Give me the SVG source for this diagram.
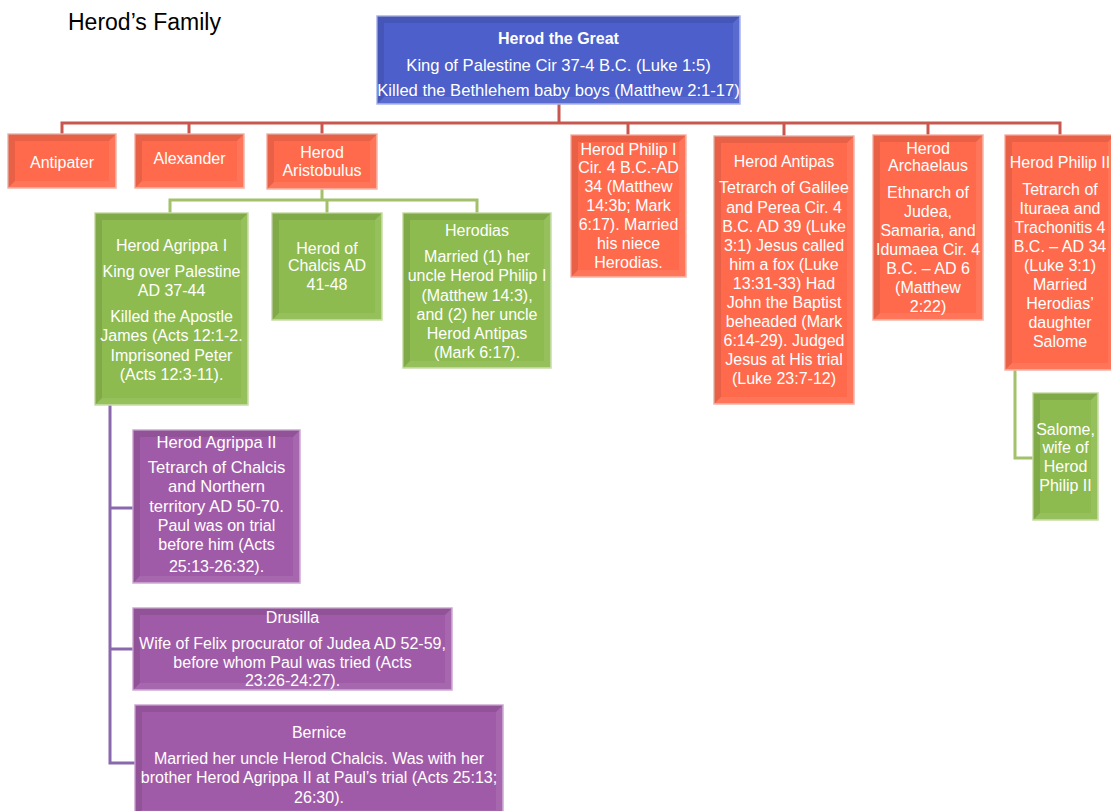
<svg xmlns="http://www.w3.org/2000/svg" width="1111" height="811" viewBox="0 0 1111 811">
<style>
text{font-family:"Liberation Sans",Arial,sans-serif;fill:#fff;font-size:16px;text-anchor:middle}
.title{fill:#000;font-size:23px;text-anchor:start}
.bold{font-weight:bold}
.big{font-size:16.6px}
.blue{fill:#4C5FCB;stroke:#A9B4E8;stroke-width:1.5}
.red{fill:#FF6A4C;stroke:#F6B4A6;stroke-width:1.5}
.green{fill:#8DBB4F;stroke:#C9DCA8;stroke-width:1.5}
.purple{fill:#A05BA8;stroke:#CDA9D2;stroke-width:1.5}
.dk{fill:#000;opacity:0.09}
.lt{fill:#fff;opacity:0.08}
.c{fill:none;stroke-width:3}
.cr{stroke:#C8584F}
.cg{stroke:#A3C16A}
.cp{stroke:#8A68AE}
</style>
<text class="title" x="68" y="30">Herod’s Family</text>
<g id="connectors">
<path class="c cr" d="M559 104 V123 M62 134 V123 H1060 V135 M189 123 V134 M322 123 V134 M628 123 V135 M784 123 V136 M928 123 V135"/>
<path class="c cg" d="M322 189 V200 M170 213 V200 H477 V213 M327 200 V213"/>
<path class="c cg" d="M1015 370 V458 H1033"/>
<path class="c cp" d="M110 405 V763 H135 M110 508 H133 M110 649 H133"/>
</g>
<g id="herod-the-great">
<rect class="blue" x="377" y="16" width="363" height="88"/>
<path class="dk" d="M377 16 H740 L733 23 H384 V97 L377 104 Z"/>
<path class="lt" d="M740 16 V104 H377 L384 97 H733 V23 Z"/>
<text x="558.5" y="44" class="bold">Herod the Great</text>
<text x="558.5" y="71" class="big">King of Palestine Cir 37-4 B.C. (Luke 1:5)</text>
<text x="558.5" y="96" class="big">Killed the Bethlehem baby boys (Matthew 2:1-17)</text>
</g>
<g id="antipater">
<rect class="red" x="8" y="134" width="108" height="54"/>
<path class="dk" d="M8 134 H116 L109 141 H15 V181 L8 188 Z"/>
<path class="lt" d="M116 134 V188 H8 L15 181 H109 V141 Z"/>
<text x="62" y="168">Antipater</text>
</g>
<g id="alexander">
<rect class="red" x="135" y="134" width="109" height="54"/>
<path class="dk" d="M135 134 H244 L237 141 H142 V181 L135 188 Z"/>
<path class="lt" d="M244 134 V188 H135 L142 181 H237 V141 Z"/>
<text x="189.5" y="164">Alexander</text>
</g>
<g id="herod-aristobulus">
<rect class="red" x="267" y="134" width="110" height="55"/>
<path class="dk" d="M267 134 H377 L370 141 H274 V182 L267 189 Z"/>
<path class="lt" d="M377 134 V189 H267 L274 182 H370 V141 Z"/>
<text x="322" y="158">Herod</text>
<text x="322" y="176">Aristobulus</text>
</g>
<g id="herod-philip-i">
<rect class="red" x="571" y="135" width="115" height="142"/>
<path class="dk" d="M571 135 H686 L679 142 H578 V270 L571 277 Z"/>
<path class="lt" d="M686 135 V277 H571 L578 270 H679 V142 Z"/>
<text x="628.5" y="155">Herod Philip I</text>
<text x="628.5" y="173">Cir. 4 B.C.-AD</text>
<text x="628.5" y="192">34 (Matthew</text>
<text x="628.5" y="211">14:3b; Mark</text>
<text x="628.5" y="230">6:17). Married</text>
<text x="628.5" y="249">his niece</text>
<text x="628.5" y="268">Herodias.</text>
</g>
<g id="herod-antipas">
<rect class="red" x="714" y="136" width="140" height="268"/>
<path class="dk" d="M714 136 H854 L847 143 H721 V397 L714 404 Z"/>
<path class="lt" d="M854 136 V404 H714 L721 397 H847 V143 Z"/>
<text x="784" y="167">Herod Antipas</text>
<text x="784" y="193">Tetrarch of Galilee</text>
<text x="784" y="213">and Perea Cir. 4</text>
<text x="784" y="232">B.C. AD 39 (Luke</text>
<text x="784" y="251">3:1) Jesus called</text>
<text x="784" y="270">him a fox (Luke</text>
<text x="784" y="289">13:31-33) Had</text>
<text x="784" y="308">John the Baptist</text>
<text x="784" y="327">beheaded (Mark</text>
<text x="784" y="346">6:14-29). Judged</text>
<text x="784" y="365">Jesus at His trial</text>
<text x="784" y="384">(Luke 23:7-12)</text>
</g>
<g id="herod-archaelaus">
<rect class="red" x="873" y="135" width="110" height="185"/>
<path class="dk" d="M873 135 H983 L976 142 H880 V313 L873 320 Z"/>
<path class="lt" d="M983 135 V320 H873 L880 313 H976 V142 Z"/>
<text x="928" y="154">Herod</text>
<text x="928" y="171">Archaelaus</text>
<text x="928" y="198">Ethnarch of</text>
<text x="928" y="217">Judea,</text>
<text x="928" y="236">Samaria, and</text>
<text x="928" y="255">Idumaea Cir. 4</text>
<text x="928" y="274">B.C. – AD 6</text>
<text x="928" y="293">(Matthew</text>
<text x="928" y="312">2:22)</text>
</g>
<g id="herod-philip-ii">
<rect class="red" x="1005" y="135" width="110" height="235"/>
<path class="dk" d="M1005 135 H1115 L1108 142 H1012 V363 L1005 370 Z"/>
<path class="lt" d="M1115 135 V370 H1005 L1012 363 H1108 V142 Z"/>
<text x="1060" y="168">Herod Philip II</text>
<text x="1060" y="195">Tetrarch of</text>
<text x="1060" y="214">Ituraea and</text>
<text x="1060" y="233">Trachonitis 4</text>
<text x="1060" y="252">B.C. – AD 34</text>
<text x="1060" y="271">(Luke 3:1)</text>
<text x="1060" y="290">Married</text>
<text x="1060" y="309">Herodias’</text>
<text x="1060" y="328">daughter</text>
<text x="1060" y="347">Salome</text>
</g>
<g id="salome">
<rect class="green" x="1033" y="393" width="65" height="127"/>
<path class="dk" d="M1033 393 H1098 L1091 400 H1040 V513 L1033 520 Z"/>
<path class="lt" d="M1098 393 V520 H1033 L1040 513 H1091 V400 Z"/>
<text x="1065.5" y="435">Salome,</text>
<text x="1065.5" y="453">wife of</text>
<text x="1065.5" y="472">Herod</text>
<text x="1065.5" y="491">Philip II</text>
</g>
<g id="herod-agrippa-i">
<rect class="green" x="95" y="213" width="153" height="192"/>
<path class="dk" d="M95 213 H248 L241 220 H102 V398 L95 405 Z"/>
<path class="lt" d="M248 213 V405 H95 L102 398 H241 V220 Z"/>
<text x="171.5" y="251">Herod Agrippa I</text>
<text x="171.5" y="277">King over Palestine</text>
<text x="171.5" y="296">AD 37-44</text>
<text x="171.5" y="322">Killed the Apostle</text>
<text x="171.5" y="341">James (Acts 12:1-2.</text>
<text x="171.5" y="361">Imprisoned Peter</text>
<text x="171.5" y="380">(Acts 12:3-11).</text>
</g>
<g id="herod-of-chalcis">
<rect class="green" x="272" y="213" width="110" height="107"/>
<path class="dk" d="M272 213 H382 L375 220 H279 V313 L272 320 Z"/>
<path class="lt" d="M382 213 V320 H272 L279 313 H375 V220 Z"/>
<text x="327" y="254">Herod of</text>
<text x="327" y="271">Chalcis AD</text>
<text x="327" y="290">41-48</text>
</g>
<g id="herodias">
<rect class="green" x="403" y="213" width="148" height="155"/>
<path class="dk" d="M403 213 H551 L544 220 H410 V361 L403 368 Z"/>
<path class="lt" d="M551 213 V368 H403 L410 361 H544 V220 Z"/>
<text x="477" y="236">Herodias</text>
<text x="477" y="262">Married (1) her</text>
<text x="477" y="281">uncle Herod Philip I</text>
<text x="477" y="301">(Matthew 14:3),</text>
<text x="477" y="320">and (2) her uncle</text>
<text x="477" y="339">Herod Antipas</text>
<text x="477" y="358">(Mark 6:17).</text>
</g>
<g id="herod-agrippa-ii">
<rect class="purple" x="133" y="430" width="167" height="153"/>
<path class="dk" d="M133 430 H300 L293 437 H140 V576 L133 583 Z"/>
<path class="lt" d="M300 430 V583 H133 L140 576 H293 V437 Z"/>
<text x="216.5" y="448" class="big">Herod Agrippa II</text>
<text x="216.5" y="473" class="big">Tetrarch of Chalcis</text>
<text x="216.5" y="492" class="big">and Northern</text>
<text x="216.5" y="512" class="big">territory AD 50-70.</text>
<text x="216.5" y="531">Paul was on trial</text>
<text x="216.5" y="550">before him (Acts</text>
<text x="216.5" y="572">25:13-26:32).</text>
</g>
<g id="drusilla">
<rect class="purple" x="133" y="608" width="319" height="82"/>
<path class="dk" d="M133 608 H452 L445 615 H140 V683 L133 690 Z"/>
<path class="lt" d="M452 608 V690 H133 L140 683 H445 V615 Z"/>
<text x="292.5" y="623">Drusilla</text>
<text x="292.5" y="649">Wife of Felix procurator of Judea AD 52-59,</text>
<text x="292.5" y="668">before whom Paul was tried (Acts</text>
<text x="292.5" y="686">23:26-24:27).</text>
</g>
<g id="bernice">
<rect class="purple" x="135" y="705" width="368" height="112"/>
<path class="dk" d="M135 705 H503 L496 712 H142 V810 L135 817 Z"/>
<path class="lt" d="M503 705 V817 H135 L142 810 H496 V712 Z"/>
<text x="319" y="738">Bernice</text>
<text x="319" y="764">Married her uncle Herod Chalcis. Was with her</text>
<text x="319" y="783">brother Herod Agrippa II at Paul’s trial (Acts 25:13;</text>
<text x="319" y="803">26:30).</text>
</g>
</svg>
